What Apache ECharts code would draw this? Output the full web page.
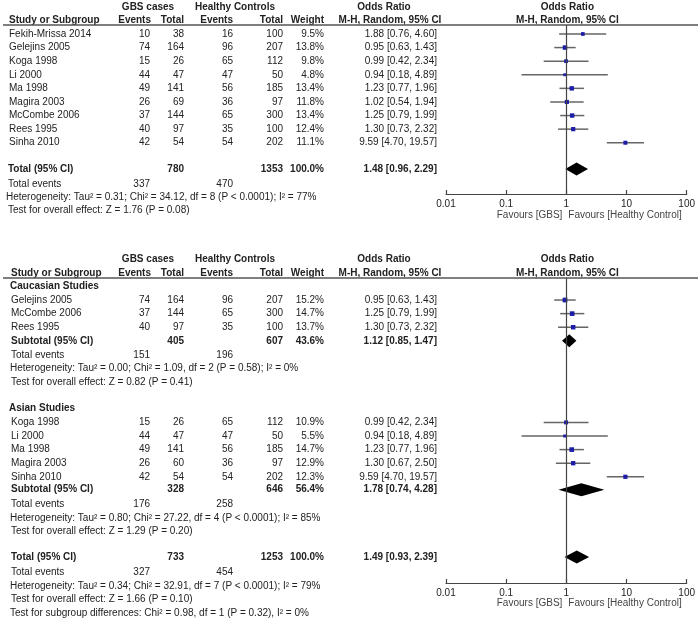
<!DOCTYPE html>
<html><head><meta charset="utf-8">
<script src="https://cdn.jsdelivr.net/npm/echarts@6/dist/echarts.min.js"></script>
<style>html,body{margin:0;padding:0;background:#fff}#c{width:698px;height:618px}</style>
</head><body><div id="c"></div>
<script>
// ---------- Panel 1: all studies ----------
const studies1 = ['Fekih-Mrissa 2014','Gelejins 2005','Koga 1998','Li 2000','Ma 1998','Magira 2003','McCombe 2006','Rees 1995','Sinha 2010'];
const gbsEvents1 = [10,74,15,44,49,26,37,40,42];
const gbsTotal1  = [38,164,26,47,141,69,144,97,54];
const hcEvents1  = [16,96,65,47,56,36,65,35,54];
const hcTotal1   = [100,207,112,50,185,97,300,100,202];
const weight1    = [9.5,13.8,9.8,4.8,13.4,11.8,13.4,12.4,11.1];
const or1 = [1.88,0.95,0.99,0.94,1.23,1.02,1.25,1.30,9.59];
const lo1 = [0.76,0.63,0.42,0.18,0.77,0.54,0.79,0.73,4.70];
const hi1 = [4.60,1.43,2.34,4.89,1.96,1.94,1.99,2.32,19.57];
const total1 = [780,1353,100.0,1.48,0.96,2.29];       // gbsTotal, hcTotal, weight, OR, lo, hi
const totalEvents1 = [337,470];
const het1 = 'Heterogeneity: Tau\u00b2 = 0.31; Chi\u00b2 = 34.12, df = 8 (P < 0.0001); I\u00b2 = 77%';
const test1 = 'Test for overall effect: Z = 1.76 (P = 0.08)';

// ---------- Panel 2: subgroups ----------
const cauStudies = ['Gelejins 2005','McCombe 2006','Rees 1995'];
const cauGbsEvents = [74,37,40];
const cauGbsTotal  = [164,144,97];
const cauHcEvents  = [96,65,35];
const cauHcTotal   = [207,300,100];
const cauWeight    = [15.2,14.7,13.7];
const cauOR = [0.95,1.25,1.30];
const cauLo = [0.63,0.79,0.73];
const cauHi = [1.43,1.99,2.32];
const cauSub = [405,607,43.6,1.12,0.85,1.47];
const cauEvents = [151,196];
const cauHet = 'Heterogeneity: Tau\u00b2 = 0.00; Chi\u00b2 = 1.09, df = 2 (P = 0.58); I\u00b2 = 0%';
const cauTest = 'Test for overall effect: Z = 0.82 (P = 0.41)';

const asiStudies = ['Koga 1998','Li 2000','Ma 1998','Magira 2003','Sinha 2010'];
const asiGbsEvents = [15,44,49,26,42];
const asiGbsTotal  = [26,47,141,60,54];
const asiHcEvents  = [65,47,56,36,54];
const asiHcTotal   = [112,50,185,97,202];
const asiWeight    = [10.9,5.5,14.7,12.9,12.3];
const asiOR = [0.99,0.94,1.23,1.30,9.59];
const asiLo = [0.42,0.18,0.77,0.67,4.70];
const asiHi = [2.34,4.89,1.96,2.50,19.57];
const asiSub = [328,646,56.4,1.78,0.74,4.28];
const asiEvents = [176,258];
const asiHet = 'Heterogeneity: Tau\u00b2 = 0.80; Chi\u00b2 = 27.22, df = 4 (P < 0.0001); I\u00b2 = 85%';
const asiTest = 'Test for overall effect: Z = 1.29 (P = 0.20)';

const total2 = [733,1253,100.0,1.49,0.93,2.39];
const totalEvents2 = [327,454];
const het2 = 'Heterogeneity: Tau\u00b2 = 0.34; Chi\u00b2 = 32.91, df = 7 (P < 0.0001); I\u00b2 = 79%';
const test2 = 'Test for overall effect: Z = 1.66 (P = 0.10)';
const subgroupTest = 'Test for subgroup differences: Chi\u00b2 = 0.98, df = 1 (P = 0.32), I\u00b2 = 0%';

const axisTicks = [0.01,0.1,1,10,100];
const favLeft = 'Favours [GBS]';
const favRight = 'Favours [Healthy Control]';

// ---------- layout helpers ----------
const FONT = '"Liberation Sans", Arial, Helvetica, sans-serif';
const COL = {ev1:151, tot1:184, ev2:233, tot2:283, w:324, orTxt:437};
const fmtOR = (o,l,h) => o.toFixed(2)+' ['+l.toFixed(2)+', '+h.toFixed(2)+']';
const pct = v => v.toFixed(1)+'%';

function headerRows(y1, y2, nameX){
  return [
    {y:y1, cells:[
      {t:'GBS cases', x:148, a:'center', b:1},
      {t:'Healthy Controls', x:235, a:'center', b:1},
      {t:'Odds Ratio', x:384, a:'center', b:1},
      {t:'Odds Ratio', xv:1, dx:1, a:'center', b:1}]},
    {y:y2, cells:[
      {t:'Study or Subgroup', x:nameX, a:'left', b:1},
      {t:'Events', x:COL.ev1, a:'right', b:1},
      {t:'Total', x:COL.tot1, a:'right', b:1},
      {t:'Events', x:COL.ev2, a:'right', b:1},
      {t:'Total', x:COL.tot2, a:'right', b:1},
      {t:'Weight', x:COL.w, a:'right', b:1},
      {t:'M-H, Random, 95% CI', x:390, a:'center', b:1},
      {t:'M-H, Random, 95% CI', xv:1, dx:1, a:'center', b:1}]}
  ];
}
function studyRow(y, nameX, name, e1, t1, e2, t2, w, o, l, h){
  return {y, cells:[
    {t:name, x:nameX, a:'left'},
    {t:String(e1), x:COL.ev1-1, a:'right'},
    {t:String(t1), x:COL.tot1, a:'right'},
    {t:String(e2), x:COL.ev2, a:'right'},
    {t:String(t2), x:COL.tot2, a:'right'},
    {t:pct(w), x:COL.w, a:'right'},
    {t:fmtOR(o,l,h), x:COL.orTxt, a:'right'}]};
}
function totalRow(y, nameX, label, arr){
  return {y, cells:[
    {t:label, x:nameX, a:'left', b:1},
    {t:String(arr[0]), x:COL.tot1, a:'right', b:1},
    {t:String(arr[1]), x:COL.tot2, a:'right', b:1},
    {t:pct(arr[2]), x:COL.w, a:'right', b:1},
    {t:fmtOR(arr[3],arr[4],arr[5]), x:COL.orTxt, a:'right', b:1}]};
}
function eventsRow(y, nameX, ev){
  return {y, cells:[
    {t:'Total events', x:nameX, a:'left'},
    {t:String(ev[0]), x:COL.ev1-1, a:'right'},
    {t:String(ev[1]), x:COL.ev2, a:'right'}]};
}
const textRow = (y, x, t, b) => ({y, cells:[{t, x, a:'left', b}]});

// ---------- panel 1 rows ----------
const Y1MIN = -0.66, Y1MAX = 11.77;
const rows1 = [];
rows1.push(...headerRows(-2, -1, 9));
rows1.push({y:Y1MIN, line:true, cells:[]});
studies1.forEach((s,i)=>rows1.push(studyRow(i, 9, s, gbsEvents1[i], gbsTotal1[i], hcEvents1[i], hcTotal1[i], weight1[i], or1[i], lo1[i], hi1[i])));
rows1.push(totalRow(9.93, 8, 'Total (95% CI)', total1));
rows1.push(eventsRow(11.03, 8, totalEvents1));
rows1.push(textRow(12.0, 6, het1));
rows1.push(textRow(12.97, 8, test1));
rows1.push({y:Y1MAX, fav:true, cells:[
  {t:favLeft, xv:1, dx:-4, a:'right', c:'#444', dy:21},
  {t:favRight, xv:1, dx:2, a:'left', c:'#444', dy:21}]});
const pts1 = studies1.map((s,i)=>[or1[i], lo1[i], hi1[i], i, weight1[i]]);
const dia1 = [[total1[3], total1[4], total1[5], 9.93]];

// ---------- panel 2 rows ----------
const Y2MIN = -1.62, Y2MAX = 20.81;
const rows2 = [];
rows2.push(...headerRows(-3, -2, 11));
rows2.push({y:Y2MIN, line:true, cells:[]});
rows2.push(textRow(-1, 10, 'Caucasian Studies', 1));
cauStudies.forEach((s,i)=>rows2.push(studyRow(i, 11, s, cauGbsEvents[i], cauGbsTotal[i], cauHcEvents[i], cauHcTotal[i], cauWeight[i], cauOR[i], cauLo[i], cauHi[i])));
rows2.push(totalRow(3, 11, 'Subtotal (95% CI)', cauSub));
rows2.push(eventsRow(4.05, 11, cauEvents));
rows2.push(textRow(5.05, 10, cauHet));
rows2.push(textRow(6.03, 11, cauTest));
rows2.push(textRow(7.95, 9, 'Asian Studies', 1));
const asiStart = 9;
asiStudies.forEach((s,i)=>rows2.push(studyRow(asiStart+i, 11, s, asiGbsEvents[i], asiGbsTotal[i], asiHcEvents[i], asiHcTotal[i], asiWeight[i], asiOR[i], asiLo[i], asiHi[i])));
rows2.push(totalRow(13.95, 11, 'Subtotal (95% CI)', asiSub));
rows2.push(eventsRow(15.05, 11, asiEvents));
rows2.push(textRow(16.05, 10, asiHet));
rows2.push(textRow(17.03, 11, asiTest));
rows2.push(totalRow(18.9, 11, 'Total (95% CI)', total2));
rows2.push(eventsRow(20.0, 11, totalEvents2));
rows2.push(textRow(21.02, 10, het2));
rows2.push(textRow(22.02, 11, test2));
rows2.push(textRow(23.0, 10, subgroupTest));
rows2.push({y:Y2MAX, fav:true, cells:[
  {t:favLeft, xv:1, dx:-4, a:'right', c:'#444', dy:20},
  {t:favRight, xv:1, dx:2, a:'left', c:'#444', dy:20}]});
const pts2 = cauStudies.map((s,i)=>[cauOR[i], cauLo[i], cauHi[i], i, cauWeight[i]])
  .concat(asiStudies.map((s,i)=>[asiOR[i], asiLo[i], asiHi[i], asiStart+i, asiWeight[i]]));
const dia2 = [[cauSub[3], cauSub[4], cauSub[5], 3], [asiSub[3], asiSub[4], asiSub[5], 13.95], [total2[3], total2[4], total2[5], 18.9]];

// ---------- renderers ----------
function renderStudy(params, api){
  const o = api.value(0), l = api.value(1), h = api.value(2), r = api.value(3), w = api.value(4);
  const p0 = api.coord([l, r]), p1 = api.coord([h, r]), pc = api.coord([o, r]);
  const s = 2 + w * 0.18;
  return {type:'group', children:[
    {type:'line', shape:{x1:p0[0], y1:p0[1], x2:p1[0], y2:p1[1]}, style:{stroke:'#666', lineWidth:1.5}},
    {type:'rect', shape:{x:pc[0]-s/2, y:pc[1]-s/2, width:s, height:s}, style:{fill:'#1c1ca8'}}
  ]};
}
function renderDiamond(params, api){
  const o = api.value(0), l = api.value(1), h = api.value(2), r = api.value(3);
  const pl = api.coord([l, r]), ph = api.coord([h, r]), pc = api.coord([o, r]);
  const hh = 6.5;
  return {type:'polygon', shape:{points:[[pl[0], pl[1]], [pc[0], pc[1]-hh], [ph[0], ph[1]], [pc[0], pc[1]+hh]]}, style:{fill:'#000'}};
}
function makeTextRender(rows){
  return function(params, api){
    const r = rows[params.dataIndex];
    const y = api.coord([1, r.y])[1];
    const children = r.cells.map(c => ({
      type:'text',
      style:{
        text:c.t,
        x: (c.xv !== undefined ? api.coord([c.xv, r.y])[0] + (c.dx||0) : c.x),
        y: y + (c.dy||0),
        align:c.a, verticalAlign:'middle',
        font:(c.b ? 'bold ' : '') + '10px ' + FONT,
        fill:c.c || '#222'
      }
    }));
    if (r.line) children.push({type:'line', shape:{x1:3, y1:y, x2:698, y2:y}, style:{stroke:'#555', lineWidth:1.3}});
    return {type:'group', children};
  };
}

function xAx(gi){
  return {
    gridIndex:gi, type:'log', logBase:10, min:axisTicks[0], max:axisTicks[axisTicks.length-1],
    position:'bottom',
    axisLine:{onZero:false, lineStyle:{color:'#444', width:1.2}},
    axisTick:{show:true, inside:true, length:4, lineStyle:{color:'#444', width:1.2}},
    axisLabel:{margin:5, color:'#222', fontSize:10, fontFamily:FONT, formatter:v => String(+(+v).toPrecision(2))},
    splitLine:{show:false}
  };
}
const vline = {silent:true, symbol:['none','none'], label:{show:false},
  lineStyle:{color:'#444', width:1.2, type:'solid'}, data:[{xAxis:1}], animation:false};

const chart = echarts.init(document.getElementById('c'), null, {renderer:'canvas'});
chart.setOption({
  animation:false,
  backgroundColor:'#fff',
  grid:[
    {left:446, right:9, top:25, height:169},
    {left:446, right:9, top:278, height:305}
  ],
  xAxis:[xAx(0), xAx(1)],
  yAxis:[
    {gridIndex:0, type:'value', inverse:true, min:Y1MIN, max:Y1MAX, show:false},
    {gridIndex:1, type:'value', inverse:true, min:Y2MIN, max:Y2MAX, show:false}
  ],
  series:[
    {type:'custom', xAxisIndex:0, yAxisIndex:0, renderItem:makeTextRender(rows1),
      data:rows1.map(r=>[1, r.y]), encode:{x:0, y:1}, silent:true, clip:false, z:5},
    {type:'custom', xAxisIndex:0, yAxisIndex:0, renderItem:renderStudy, data:pts1,
      encode:{x:[0,1,2], y:3}, clip:false, markLine:vline, z:3},
    {type:'custom', xAxisIndex:0, yAxisIndex:0, renderItem:renderDiamond, data:dia1,
      encode:{x:[0,1,2], y:3}, clip:false, z:4},
    {type:'custom', xAxisIndex:1, yAxisIndex:1, renderItem:makeTextRender(rows2),
      data:rows2.map(r=>[1, r.y]), encode:{x:0, y:1}, silent:true, clip:false, z:5},
    {type:'custom', xAxisIndex:1, yAxisIndex:1, renderItem:renderStudy, data:pts2,
      encode:{x:[0,1,2], y:3}, clip:false, markLine:vline, z:3},
    {type:'custom', xAxisIndex:1, yAxisIndex:1, renderItem:renderDiamond, data:dia2,
      encode:{x:[0,1,2], y:3}, clip:false, z:4}
  ]
});
</script>
</body></html>
